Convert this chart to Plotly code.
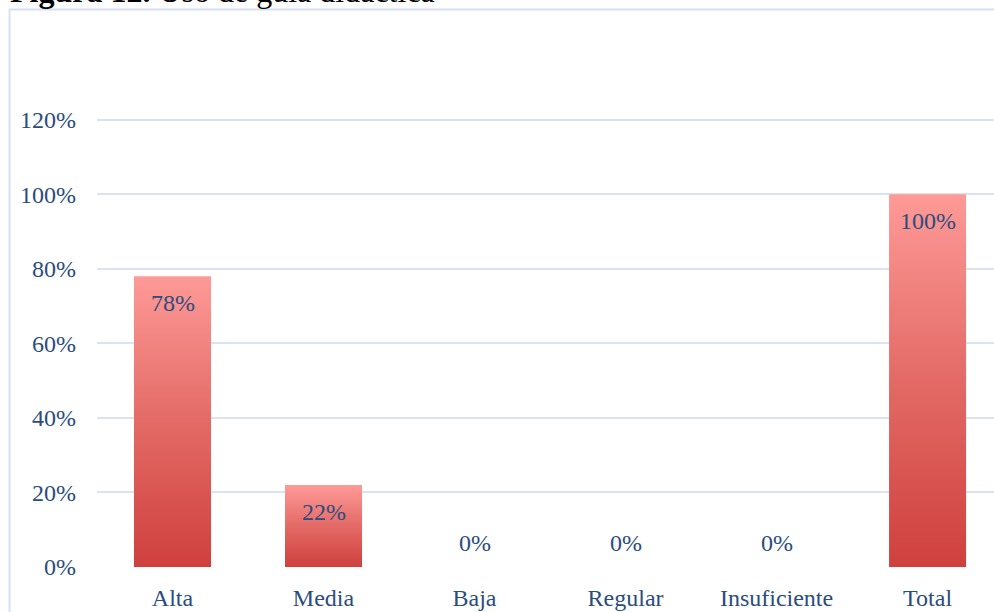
import plotly.graph_objects as go

# Uso de guía didáctica: share of responses per level
categorias = ["Alta", "Media", "Baja", "Regular", "Insuficiente", "Total"]
porcentajes = [0.78, 0.22, 0.0, 0.0, 0.0, 1.00]
ticks_y = [0, 0.2, 0.4, 0.6, 0.8, 1.0, 1.2]
etiquetas_y = ["0%", "20%", "40%", "60%", "80%", "100%", "120%"]

TEXT_COLOR = "#2b4c7e"
GRID_COLOR = "#d9e3f1"
FONT = "Liberation Serif"
FONT_SIZE = 24
BAR_HALF = 0.255

fig = go.Figure()

# Each bar is a filled rectangle with a vertical pink-to-red gradient
for i, (cat, v) in enumerate(zip(categorias, porcentajes)):
    if v <= 0:
        continue
    xs = [i - BAR_HALF, i + BAR_HALF, i + BAR_HALF, i - BAR_HALF, i - BAR_HALF]
    ys = [0, 0, v, v, 0]
    fig.add_trace(go.Scatter(
        x=xs, y=ys, mode="lines", fill="toself",
        line=dict(width=0, color="rgba(0,0,0,0)"),
        fillgradient=dict(
            type="vertical",
            colorscale=[[0, "#cf403d"], [0.5, "#e36a66"], [1, "#fe9a97"]],
            start=0, stop=v,
        ),
        name=cat, hoverinfo="skip", showlegend=False,
    ))

# Value labels: inside the top of the bar, or just above the baseline for zero
for i, v in enumerate(porcentajes):
    fig.add_annotation(
        x=i, y=v, text=f"{round(v * 100)}%", showarrow=False,
        yshift=-27 if v > 0 else 24,
        font=dict(family=FONT, size=FONT_SIZE, color=TEXT_COLOR),
    )

# Chart title above the frame
fig.add_annotation(
    xref="paper", yref="paper", x=-0.099, y=1.066, xanchor="left", yanchor="bottom",
    text="<b>Figura 12.</b> Uso de guía didáctica", showarrow=False,
    font=dict(family="Liberation Serif", size=32, color="#000000"),
)

# Light blue chart frame
fig.add_shape(
    type="rect", xref="paper", yref="paper",
    x0=-0.0975, y0=-0.2, x1=1.2, y1=1.068,
    line=dict(color="#d6e0f0", width=2), layer="below",
)

fig.update_layout(
    width=994, height=612,
    margin=dict(l=97, r=0, t=45, b=45),
    paper_bgcolor="white", plot_bgcolor="white",
    xaxis=dict(
        range=[-0.5, 5.44], tickvals=list(range(len(categorias))), ticktext=categorias,
        showgrid=False, zeroline=False, showline=False, ticks="",
        ticklabelstandoff=14,
        tickfont=dict(family=FONT, size=FONT_SIZE, color=TEXT_COLOR),
    ),
    yaxis=dict(
        range=[0, 1.4], tickvals=ticks_y, ticktext=etiquetas_y,
        showgrid=True, gridcolor=GRID_COLOR, gridwidth=2,
        zeroline=False, showline=False, ticks="", ticklabelstandoff=20,
        tickfont=dict(family=FONT, size=FONT_SIZE, color=TEXT_COLOR),
    ),
)

fig.write_html("out.html")
